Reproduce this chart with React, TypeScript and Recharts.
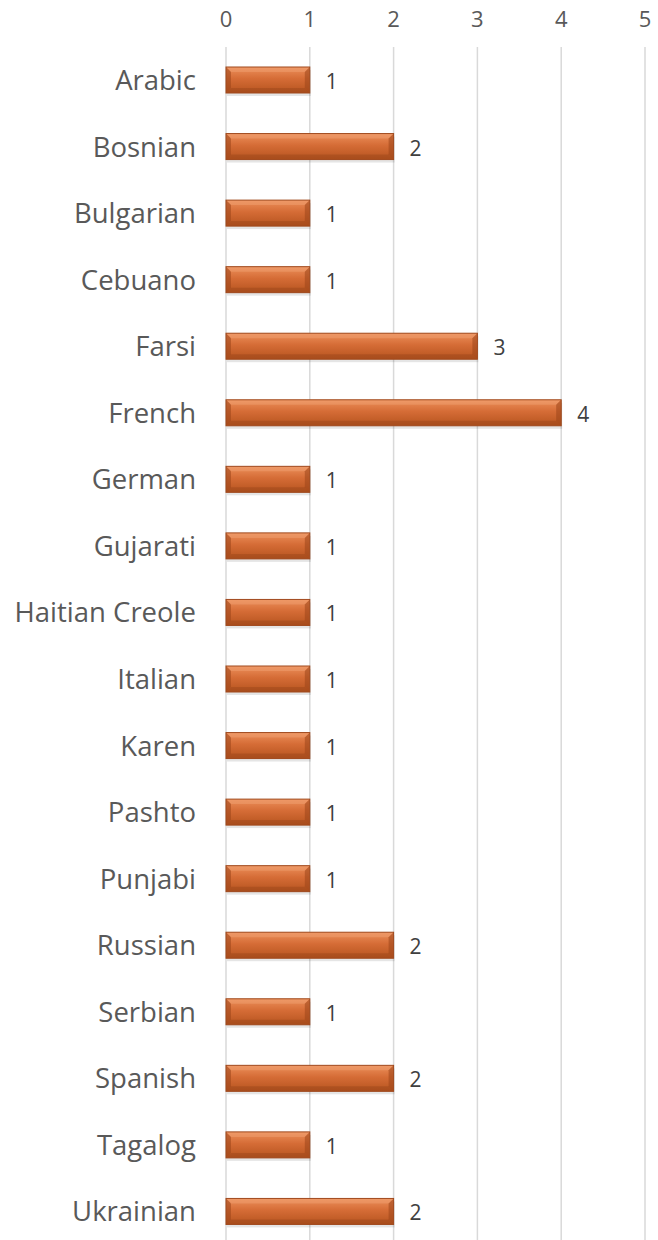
import React from "react";
import { BarChart, Bar, XAxis, YAxis, CartesianGrid, LabelList } from "recharts";

const languages = [
  "Arabic", "Bosnian", "Bulgarian", "Cebuano", "Farsi", "French", "German", "Gujarati",
  "Haitian Creole", "Italian", "Karen", "Pashto", "Punjabi", "Russian", "Serbian",
  "Spanish", "Tagalog", "Ukrainian",
];
const counts = [1, 2, 1, 1, 3, 4, 1, 1, 1, 1, 1, 1, 1, 2, 1, 2, 1, 2];
const xTicks = [0, 1, 2, 3, 4, 5];

const data = languages.map((name, i) => ({ name, value: counts[i] }));

const FONT = "'Open Sans', sans-serif";

const BevelBar = (props: any) => {
  const { x, y, width, height, index } = props;
  if (!width || width <= 0) return null;
  const b = 5;
  const id = `barGrad${index}`;
  return (
    <g>
      <defs>
        <linearGradient id={id} x1="0" y1="0" x2="0" y2="1">
          <stop offset="0%" stopColor="#EC8F5A" />
          <stop offset="45%" stopColor="#D56C36" />
          <stop offset="100%" stopColor="#B6541F" />
        </linearGradient>
      </defs>
      <rect x={x + 1} y={y + 3} width={width} height={height} fill="#000" opacity={0.1} />
      <rect x={x} y={y} width={width} height={height} fill={`url(#${id})`} />
      <polygon points={`${x},${y} ${x + width},${y} ${x + width - b},${y + b} ${x + b},${y + b}`} fill="#F3A77A" opacity={0.4} />
      <polygon points={`${x},${y + height} ${x + width},${y + height} ${x + width - b},${y + height - b} ${x + b},${y + height - b}`} fill="#8E3E16" opacity={0.35} />
      <polygon points={`${x},${y} ${x + b},${y + b} ${x + b},${y + height - b} ${x},${y + height}`} fill="#9C4519" opacity={0.55} />
      <polygon points={`${x + width},${y} ${x + width - b},${y + b} ${x + width - b},${y + height - b} ${x + width},${y + height}`} fill="#9C4519" opacity={0.55} />
      <rect x={x} y={y} width={width} height={height} fill="none" stroke="#A04A1E" strokeWidth={1} />
    </g>
  );
};

const ValueLabel = (props: any) => {
  const { x, y, width, height, value } = props;
  return (
    <text
      x={x + width + 16}
      y={y + height / 2 + 1}
      dominantBaseline="central"
      fill="#404040"
      style={{ fontSize: 21, fontFamily: FONT }}
    >
      {value}
    </text>
  );
};

const XTick = (props: any) => {
  const { x, y, payload } = props;
  return (
    <text x={x} y={y} textAnchor="middle" fill="#595959" style={{ fontSize: 22, fontFamily: FONT }}>
      {payload.value}
    </text>
  );
};

export default function App() {
  return (
    <div style={{ position: "absolute", left: 0, top: 0 }}>
      <BarChart
        width={658}
        height={1250}
        data={data}
        layout="vertical"
        margin={{ top: 17, right: 13, bottom: 5, left: 0 }}
        barSize={26}
      >
        <CartesianGrid horizontal={false} stroke="#D9D9D9" strokeWidth={1.5} />
        <XAxis
          type="number"
          orientation="top"
          domain={[0, 5]}
          ticks={xTicks}
          height={30}
          axisLine={false}
          tickLine={false}
          tickMargin={14}
          tick={<XTick />}
        />
        <YAxis
          type="category"
          dataKey="name"
          width={226}
          axisLine={false}
          tickLine={false}
          tickMargin={24}
          tick={{ fill: "#595959", fontSize: 27.5, fontFamily: FONT }}
        />
        <Bar dataKey="value" shape={<BevelBar />} isAnimationActive={false}>
          <LabelList dataKey="value" content={<ValueLabel />} />
        </Bar>
      </BarChart>
    </div>
  );
}
